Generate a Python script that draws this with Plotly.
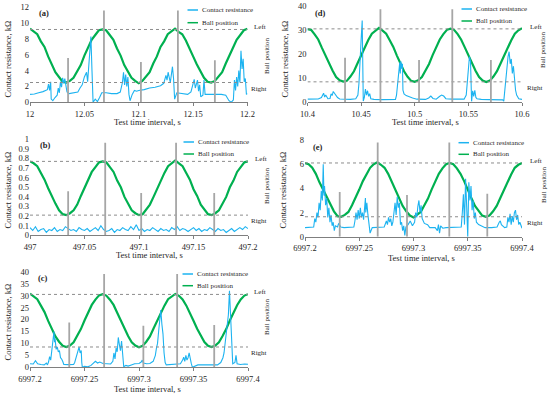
import plotly.graph_objects as go

W, H = 550, 394
FONT = "Liberation Serif"
BLUE = "#1DB3F0"
GREEN = "#00B050"
GRAY_BAR = "#A6A6A6"
GRAY_DOT = "#8C8C8C"
AXIS = "#7F7F7F"

# ---------------- shared sampling offsets (s) for the ball position ----------------
ball_dt = [0, 0.00333, 0.00667, 0.01, 0.01333, 0.01667, 0.02, 0.02333, 0.02667, 0.03,
           0.03333, 0.03667, 0.04, 0.04333, 0.04667, 0.05, 0.05333, 0.05667, 0.06, 0.06333,
           0.06667, 0.07, 0.07333, 0.07667, 0.08, 0.08333, 0.08667, 0.09, 0.09333, 0.09667,
           0.1, 0.10333, 0.10667, 0.11, 0.11333, 0.11667, 0.12, 0.12333, 0.12667, 0.13,
           0.13333, 0.13667, 0.14, 0.14333, 0.14667, 0.15, 0.15333, 0.15667, 0.16, 0.16333,
           0.16667, 0.17, 0.17333, 0.17667, 0.18, 0.18333, 0.18667, 0.19, 0.19333, 0.19667, 0.2]

# ---------------- panel (a) ----------------
a_t0 = 12.0
a_xticks = ["12", "12.05", "12.1", "12.15", "12.2"]
a_yticks = [0, 2, 4, 6, 8, 10, 12]
a_pos = [9.3, 9.0, 8.6, 7.7, 7.0, 5.8, 4.9, 3.8, 3.2, 2.6, 2.5, 2.7, 3.1, 3.9, 4.7, 5.9, 6.8, 7.9, 8.5, 9.1,
         9.2, 9.1, 8.5, 7.9, 6.8, 5.9, 4.7, 3.9, 3.1, 2.7, 2.4, 2.7, 3.2, 3.8, 4.9, 5.8, 7.0, 7.7, 8.6, 9.0,
         9.3, 8.9, 8.6, 7.8, 6.9, 5.8, 4.8, 3.9, 3.1, 2.6, 2.5, 2.7, 3.2, 3.8, 4.9, 5.8, 6.9, 7.9, 8.5, 9.1, 9.3]
a_cr_dt = [0, 0.004, 0.008, 0.012, 0.016, 0.017, 0.018, 0.019, 0.0195, 0.021, 0.023, 0.025, 0.026, 0.027,
           0.028, 0.029, 0.03, 0.031, 0.032, 0.033, 0.034, 0.036, 0.04, 0.044, 0.046, 0.048, 0.05, 0.052,
           0.053, 0.054, 0.055, 0.056, 0.057, 0.058, 0.06, 0.062, 0.064, 0.066, 0.07, 0.075, 0.08, 0.083,
           0.085, 0.086, 0.087, 0.088, 0.089, 0.09, 0.091, 0.092, 0.094, 0.096, 0.098, 0.1, 0.105, 0.11,
           0.115, 0.12, 0.123, 0.125, 0.126, 0.127, 0.129, 0.131, 0.132, 0.133, 0.135, 0.14, 0.145, 0.148,
           0.15, 0.151, 0.152, 0.154, 0.155, 0.156, 0.157, 0.159, 0.16, 0.161, 0.163, 0.17, 0.176, 0.18,
           0.183, 0.185, 0.187, 0.188, 0.189, 0.19, 0.191, 0.192, 0.193, 0.194, 0.195, 0.196, 0.197, 0.198,
           0.199, 0.2]
a_cr = [1.0, 1.05, 1.2, 1.35, 1.6, 2.3, 1.5, 2.6, 0.4, 0.2, 0.6, 0.9, 1.8, 1.2,
        2.6, 1.9, 3.1, 2.4, 3.0, 1.8, 1.3, 1.1, 1.2, 1.3, 1.8, 2.2, 3.2, 3.8,
        2.6, 4.2, 6.0, 8.3, 4.0, 0.0, 0.4, 0.1, 0.6, 1.2, 1.2, 1.1, 1.1, 1.3,
        2.5, 3.8, 2.2, 3.5, 2.0, 3.2, 1.0, 0.2, 1.0, 1.5, 1.4, 1.5, 1.6, 1.8,
        1.9, 2.1, 2.4, 3.4, 2.8, 3.8, 2.5, 4.5, 3.0, 0.4, 1.2, 1.1, 1.0, 1.3,
        2.2, 2.9, 1.8, 2.8, 1.4, 2.2, 0.7, 0.9, 2.8, 1.0, 1.0, 1.0, 1.0, 0.9,
        0.2, 0.0, 0.3, 2.8, 1.5, 3.2, 2.0, 4.0, 2.5, 6.5, 4.2, 5.5, 2.6, 3.0,
        1.0, 1.1]
a_bar_dt = [0.035, 0.068, 0.102, 0.136, 0.17]
a_bar_h = [5.6, 11.6, 5.1, 11.6, 5.3]
a_left, a_right = 9.2, 2.5

# ---------------- panel (b) ----------------
b_t0 = 497.0
b_xticks = ["497", "497.05", "497.1", "497.15", "497.2"]
b_yticks = [0, 0.1, 0.2, 0.3, 0.4, 0.5, 0.6, 0.7, 0.8, 0.9, 1]
b_pos = [0.77, 0.75, 0.72, 0.65, 0.58, 0.49, 0.40, 0.33, 0.26, 0.22, 0.21, 0.23, 0.26, 0.32, 0.41, 0.49, 0.57, 0.66, 0.71, 0.76,
         0.77, 0.76, 0.71, 0.66, 0.57, 0.50, 0.40, 0.33, 0.26, 0.23, 0.21, 0.22, 0.27, 0.32, 0.40, 0.49, 0.58, 0.65, 0.72, 0.75,
         0.78, 0.75, 0.72, 0.65, 0.58, 0.48, 0.41, 0.32, 0.27, 0.22, 0.21, 0.23, 0.26, 0.33, 0.40, 0.50, 0.57, 0.66, 0.71, 0.76, 0.77]
b_cr_dt = [0, 0.0025, 0.005, 0.0075, 0.01, 0.0125, 0.015, 0.0175, 0.02, 0.0225,
           0.025, 0.0275, 0.03, 0.0325, 0.035, 0.0375, 0.04, 0.0425, 0.045, 0.0475,
           0.05, 0.0525, 0.055, 0.0575, 0.06, 0.0625, 0.065, 0.0675, 0.07, 0.0725,
           0.075, 0.0775, 0.08, 0.0825, 0.085, 0.0875, 0.09, 0.0925, 0.095, 0.0975,
           0.1, 0.1025, 0.105, 0.1075, 0.11, 0.1125, 0.115, 0.1175, 0.12, 0.1225,
           0.125, 0.1275, 0.13, 0.1325, 0.135, 0.1375, 0.14, 0.1425, 0.145, 0.1475,
           0.15, 0.1525, 0.155, 0.1575, 0.16, 0.1625, 0.165, 0.1675, 0.17, 0.1725,
           0.175, 0.1775, 0.18, 0.1825, 0.185, 0.1875, 0.19, 0.1925, 0.195, 0.1975, 0.2]
b_cr = [0.08, 0.05, 0.09, 0.04, 0.06, 0.07, 0.03, 0.06, 0.05, 0.08,
        0.04, 0.06, 0.05, 0.09, 0.07, 0.05, 0.06, 0.04, 0.08, 0.06,
        0.05, 0.07, 0.04, 0.06, 0.08, 0.05, 0.10, 0.06, 0.04, 0.05,
        0.07, 0.03, 0.06, 0.05, 0.08, 0.06, 0.05, 0.09, 0.06, 0.11,
        0.05, 0.07, 0.04, 0.06, 0.05, 0.08, 0.06, 0.04, 0.07, 0.05,
        0.06, 0.04, 0.08, 0.06, 0.09, 0.05, 0.07, 0.06, 0.04, 0.06,
        0.08, 0.05, 0.07, 0.04, 0.06, 0.05, 0.08, 0.06, 0.04, 0.07,
        0.05, 0.06, 0.03, 0.05, 0.07, 0.04, 0.06, 0.08, 0.06, 0.09, 0.07]
b_bar_dt = [0.035, 0.069, 0.102, 0.134, 0.169]
b_bar_h = [0.46, 0.965, 0.44, 0.965, 0.44]
b_left, b_right = 0.77, 0.21

# ---------------- panel (c) ----------------
c_t0 = 6997.2
c_xticks = ["6997.2", "6997.25", "6997.3", "6997.35", "6997.4"]
c_yticks = [0, 5, 10, 15, 20, 25, 30, 35, 40]
c_pos = [30.8, 29.8, 28.5, 25.8, 23.1, 19.4, 16.2, 12.9, 10.7, 9.0, 8.5, 9.1, 10.5, 13.1, 16.0, 19.6, 22.8, 26.1, 28.3, 30.1,
         30.6, 30.0, 28.3, 26.1, 22.8, 19.6, 16.0, 13.1, 10.5, 9.1, 8.4, 9.0, 10.7, 12.9, 16.2, 19.4, 23.0, 25.8, 28.5, 29.8,
         30.7, 29.9, 28.4, 25.9, 22.9, 19.5, 16.1, 13.0, 10.6, 9.0, 8.5, 9.1, 10.5, 13.1, 16.0, 19.6, 22.8, 26.0, 28.4, 30.0, 30.6]
c_cr_dt = [0, 0.003, 0.005, 0.007, 0.01, 0.013, 0.015, 0.016, 0.017, 0.018, 0.019, 0.02, 0.021, 0.022,
           0.0225, 0.023, 0.024, 0.025, 0.026, 0.027, 0.028, 0.029, 0.03, 0.031, 0.035, 0.04, 0.041,
           0.042, 0.043, 0.044, 0.045, 0.046, 0.047, 0.0475, 0.048, 0.05, 0.053, 0.056, 0.058, 0.06,
           0.062, 0.064, 0.067, 0.07, 0.074, 0.076, 0.077, 0.078, 0.079, 0.08, 0.081, 0.082, 0.083,
           0.084, 0.085, 0.086, 0.088, 0.09, 0.093, 0.096, 0.1, 0.102, 0.103, 0.104, 0.107, 0.11,
           0.113, 0.115, 0.116, 0.117, 0.118, 0.119, 0.12, 0.121, 0.122, 0.123, 0.124, 0.125, 0.13,
           0.135, 0.138, 0.14, 0.141, 0.142, 0.143, 0.144, 0.145, 0.146, 0.147, 0.148, 0.149, 0.151,
           0.154, 0.16, 0.166, 0.172, 0.175, 0.177, 0.178, 0.179, 0.18, 0.181, 0.182, 0.183, 0.184,
           0.185, 0.186, 0.188, 0.189, 0.19, 0.193, 0.197, 0.2]
c_cr = [1.5, 1.4, 2.8, 1.5, 1.2, 1.0, 1.8, 1.0, 2.2, 4.5, 3.0, 8.0, 11.0, 15.0,
        10.5, 12.0, 7.5, 8.5, 6.5, 7.0, 4.0, 3.5, 2.5, 1.2, 1.1, 1.2, 2.0,
        3.5, 5.0, 6.5, 8.4, 6.0, 7.0, 2.0, 0.0, 0.4, 0.2, 0.8, 1.5, 2.5,
        1.8, 2.2, 1.6, 1.5, 1.4, 2.5, 6.0, 3.5, 8.0, 6.5, 12.5, 9.5, 7.0,
        11.0, 5.0, 0.2, 0.8, 0.5, 1.0, 1.5, 1.6, 2.2, 3.0, 1.8, 1.5, 1.6,
        2.5, 5.0, 8.0, 10.0, 15.0, 20.0, 24.0, 18.0, 14.0, 6.0, 2.0, 1.0, 1.2,
        1.3, 1.5, 3.0, 4.2, 2.5, 5.0, 3.0, 4.0, 6.0, 3.0, 1.5, 0.0, 0.5,
        1.0, 1.0, 1.1, 1.0, 2.0, 4.0, 6.0, 10.0, 14.0, 18.0, 22.0, 32.0, 20.0,
        14.0, 1.5, 2.0, 5.0, 1.5, 1.2, 1.4, 1.3]
c_bar_dt = [0.036, 0.068, 0.104, 0.135, 0.169]
c_bar_h = [18.7, 39.0, 17.4, 39.0, 17.7]
c_left, c_right = 30.5, 8.5

# ---------------- panel (d) ----------------
d_t0 = 10.4
d_xticks = ["10.4", "10.45", "10.5", "10.55", "10.6"]
d_yticks = [0, 10, 20, 30, 40]
d_pos = [30.4, 30.1, 28.2, 26.1, 22.7, 19.6, 15.9, 13.2, 10.5, 9.1, 8.6, 8.9, 10.7, 12.9, 16.2, 19.4, 23.0, 25.9, 28.5, 29.9,
         30.9, 29.8, 28.5, 25.8, 23.0, 19.4, 16.2, 12.9, 10.6, 8.9, 8.5, 9.2, 10.5, 13.1, 15.9, 19.6, 22.8, 26.1, 28.3, 30.1,
         30.6, 30.1, 28.3, 26.0, 22.8, 19.6, 16.0, 13.1, 10.5, 9.0, 8.4, 9.0, 10.7, 12.9, 16.1, 19.5, 23.0, 25.8, 28.5, 29.9, 30.8]
d_cr_dt = [0, 0.005, 0.01, 0.013, 0.015, 0.016, 0.017, 0.019, 0.021, 0.022, 0.023, 0.024, 0.026, 0.028,
           0.03, 0.035, 0.04, 0.045, 0.047, 0.048, 0.049, 0.05, 0.051, 0.0515, 0.052, 0.053, 0.054,
           0.055, 0.056, 0.057, 0.058, 0.059, 0.062, 0.07, 0.078, 0.082, 0.083, 0.084, 0.085, 0.086,
           0.0865, 0.087, 0.088, 0.0885, 0.089, 0.09, 0.092, 0.095, 0.098, 0.102, 0.11, 0.113, 0.115,
           0.117, 0.12, 0.123, 0.125, 0.127, 0.129, 0.135, 0.14, 0.146, 0.148, 0.149, 0.15, 0.151,
           0.152, 0.1525, 0.153, 0.154, 0.155, 0.156, 0.157, 0.158, 0.162, 0.17, 0.178, 0.182, 0.183,
           0.184, 0.185, 0.186, 0.187, 0.188, 0.189, 0.19, 0.191, 0.192, 0.193, 0.194, 0.195, 0.197, 0.2]
d_cr = [1.3, 1.3, 1.4, 2.0, 3.8, 2.2, 3.0, 1.5, 1.6, 3.5, 2.8, 4.5, 3.2, 2.0,
        1.4, 1.3, 1.2, 1.5, 3.0, 8.0, 15.0, 26.0, 34.0, 20.0, 0.5, 2.0, 5.5,
        3.0, 4.8, 2.5, 3.6, 1.5, 1.2, 1.1, 1.0, 1.2, 3.0, 8.0, 14.0, 16.5,
        12.0, 17.0, 14.0, 16.0, 5.0, 3.5, 2.8, 2.2, 1.8, 1.3, 1.2, 1.8, 2.6,
        1.6, 1.3, 2.4, 3.0, 2.6, 1.5, 1.3, 1.2, 1.3, 3.0, 8.0, 15.0, 19.0,
        17.0, 2.0, 0.4, 4.8, 2.5, 5.0, 2.0, 1.5, 1.2, 1.1, 1.0, 1.0, 0.5,
        5.0, 12.0, 16.0, 19.0, 21.0, 16.0, 18.0, 12.0, 15.0, 8.0, 5.0, 3.0, 1.5, 1.2]
d_bar_dt = [0.035, 0.068, 0.104, 0.135, 0.171]
d_bar_h = [18.5, 38.6, 17.6, 38.6, 17.6]
d_left, d_right = 30.5, 8.5

# ---------------- panel (e) ----------------
e_t0 = 6997.2
e_xticks = ["6997.2", "6997.25", "6997.3", "6997.35", "6997.4"]
e_yticks = [0, 2, 4, 6, 8]
e_pos = [6.1, 6.0, 5.7, 5.2, 4.5, 3.9, 3.2, 2.6, 2.1, 1.7, 1.65, 1.8, 2.05, 2.6, 3.2, 3.9, 4.6, 5.15, 5.7, 6.0,
         6.15, 5.95, 5.7, 5.2, 4.55, 3.85, 3.2, 2.55, 2.1, 1.75, 1.6, 1.8, 2.05, 2.6, 3.15, 3.9, 4.55, 5.2, 5.65, 6.0,
         6.1, 6.0, 5.65, 5.2, 4.6, 3.85, 3.2, 2.55, 2.1, 1.75, 1.65, 1.75, 2.1, 2.55, 3.2, 3.85, 4.6, 5.15, 5.7, 5.95, 6.1]
e_cr_dt = [0, 0.004, 0.008, 0.009, 0.01, 0.011, 0.012, 0.013, 0.014, 0.015, 0.016, 0.0168, 0.0175, 0.018,
           0.019, 0.02, 0.021, 0.022, 0.023, 0.024, 0.025, 0.026, 0.027, 0.028, 0.03, 0.031, 0.033, 0.036,
           0.04, 0.045, 0.046, 0.047, 0.048, 0.049, 0.05, 0.051, 0.052, 0.053, 0.054, 0.055, 0.0557, 0.056,
           0.057, 0.058, 0.059, 0.06, 0.062, 0.068, 0.073, 0.075, 0.076, 0.077, 0.078, 0.079, 0.08, 0.081,
           0.082, 0.083, 0.084, 0.085, 0.086, 0.087, 0.088, 0.089, 0.09, 0.091, 0.092, 0.093, 0.095, 0.097,
           0.099, 0.101, 0.102, 0.103, 0.104, 0.105, 0.106, 0.107, 0.108, 0.11, 0.113, 0.115, 0.12, 0.122,
           0.123, 0.124, 0.125, 0.127, 0.13, 0.14, 0.144, 0.145, 0.146, 0.147, 0.148, 0.149, 0.15, 0.151,
           0.152, 0.153, 0.154, 0.155, 0.156, 0.157, 0.158, 0.16, 0.163, 0.166, 0.172, 0.177, 0.179, 0.18,
           0.181, 0.184, 0.186, 0.187, 0.188, 0.189, 0.19, 0.191, 0.192, 0.193, 0.194, 0.195, 0.196, 0.197,
           0.198, 0.2]
e_cr = [0.75, 0.75, 0.8, 1.5, 1.2, 2.0, 1.6, 2.8, 2.2, 3.8, 3.0, 6.0, 3.4, 4.2,
        2.6, 3.2, 1.6, 2.4, 1.2, 1.8, 0.9, 1.2, 0.5, 0.9, 0.8, 1.1, 0.8, 0.75,
        0.75, 0.8, 1.3, 2.0, 1.4, 2.2, 1.5, 2.4, 1.6, 2.0, 1.4, 2.6, 3.2, 2.0,
        2.8, 1.8, 1.2, 0.3, 0.75, 0.75, 0.8, 1.3, 1.0, 1.6, 1.2, 1.5, 0.9, 1.2,
        2.0, 2.8, 1.8, 3.3, 2.4, 2.8, 1.0, 1.2, 0.5, 0.9, 0.1, 0.8, 1.0, 1.3,
        0.9, 1.2, 2.0, 1.6, 2.5, 3.0, 2.0, 2.6, 1.5, 1.1, 1.0, 0.75, 0.75, 0.5,
        1.0, 0.3, 0.9, 0.7, 0.75, 0.75, 0.8, 2.0, 3.5, 1.0, 4.8, 2.5, 0.0, 4.5,
        3.0, 4.2, 2.2, 3.0, 1.5, 2.0, 1.2, 1.0, 0.9, 0.75, 0.75, 0.8, 1.2, 1.3,
        1.0, 0.75, 0.8, 1.6, 1.2, 1.9, 1.0, 1.7, 1.2, 2.0, 2.2, 1.4, 1.8, 1.0,
        1.2, 0.7]
e_bar_dt = [0.032, 0.067, 0.094, 0.133, 0.168]
e_bar_h = [3.7, 7.8, 3.45, 7.8, 3.55]
e_left, e_right = 6.1, 1.65

# ---------------- layout geometry (pixels) ----------------
def fx(px):
    return px / W

def fy(py):
    return 1 - py / H

panels = [
    dict(lab="(a)", t0=a_t0, xt=a_xticks, yt=a_yticks, ymax=12, pos=a_pos, crdt=a_cr_dt, cr=a_cr,
         bdt=a_bar_dt, bh=a_bar_h, L=a_left, R=a_right,
         box=(30, 247.5, 7.3, 102.3), leg=(199.5, 10, 22.7), ytx=(7.5, 59), xtt=(147, 121.5), btt=(267, 56),
         lrx=(252, 249), labxy=(37, 13)),
    dict(lab="(d)", t0=d_t0, xt=d_xticks, yt=d_yticks, ymax=40, pos=d_pos, crdt=d_cr_dt, cr=d_cr,
         bdt=d_bar_dt, bh=d_bar_h, L=d_left, R=d_right,
         box=(307.5, 522, 6, 102.3), leg=(473.5, 9, 21), ytx=(284.5, 59), xtt=(425, 121.5), btt=(543, 50),
         lrx=(528, 525), labxy=(313, 13)),
    dict(lab="(b)", t0=b_t0, xt=b_xticks, yt=b_yticks, ymax=1, pos=b_pos, crdt=b_cr_dt, cr=b_cr,
         bdt=b_bar_dt, bh=b_bar_h, L=b_left, R=b_right,
         box=(30, 248, 139.3, 235.3), leg=(195.5, 142, 154), ytx=(7.5, 190), xtt=(149, 254.5), btt=(267, 186),
         lrx=(253, 249), labxy=(38, 145)),
    dict(lab="(e)", t0=e_t0, xt=e_xticks, yt=e_yticks, ymax=8, pos=e_pos, crdt=e_cr_dt, cr=e_cr,
         bdt=e_bar_dt, bh=e_bar_h, L=e_left, R=e_right,
         box=(305, 522, 140, 236.7), leg=(470.5, 142.7, 154.3), ytx=(282.5, 190), xtt=(422, 257.5), btt=(544, 185),
         lrx=(528, 525), labxy=(311, 147)),
    dict(lab="(c)", t0=c_t0, xt=c_xticks, yt=c_yticks, ymax=40, pos=c_pos, crdt=c_cr_dt, cr=c_cr,
         bdt=c_bar_dt, bh=c_bar_h, L=c_left, R=c_right,
         box=(30, 248, 271.7, 367.3), leg=(194.5, 274, 285.7), ytx=(7.5, 322), xtt=(147, 388.5), btt=(267, 317),
         lrx=(252, 249), labxy=(36, 278)),
]

fig = go.Figure()
annotations = []
shapes = []
layout = dict(
    width=W, height=H, margin=dict(l=0, r=0, t=0, b=0, pad=0, autoexpand=False),
    paper_bgcolor="white", plot_bgcolor="white",
    font=dict(family=FONT, size=8.5, color="#262626"),
    hovermode=False, showlegend=False,
)

for i, p in enumerate(panels):
    n = i + 1
    sfx = "" if n == 1 else str(n)
    xa, ya = "x" + sfx, "y" + sfx
    t0 = p["t0"]
    x0, x1, ytop, ybot = p["box"]

    # ball position (green)
    fig.add_trace(go.Scatter(
        x=[t0 + d for d in ball_dt], y=p["pos"], mode="lines", name="Ball position",
        line=dict(color=GREEN, width=2.2), xaxis=xa, yaxis=ya))
    # contact resistance (blue)
    fig.add_trace(go.Scatter(
        x=[t0 + d for d in p["crdt"]], y=p["cr"], mode="lines", name="Contact resistance",
        line=dict(color=BLUE, width=1.1), xaxis=xa, yaxis=ya))
    # dotted Left / Right levels
    for lvl in (p["L"], p["R"]):
        fig.add_trace(go.Scatter(
            x=[t0, t0 + 0.2], y=[lvl, lvl], mode="lines",
            line=dict(color=GRAY_DOT, width=1, dash="dot"), xaxis=xa, yaxis=ya))
    # gray vertical markers
    vx, vy = [], []
    for d, h in zip(p["bdt"], p["bh"]):
        vx += [t0 + d, t0 + d, None]
        vy += [0, h, None]
    fig.add_trace(go.Scatter(
        x=vx, y=vy, mode="lines",
        line=dict(color=GRAY_BAR, width=1.8), xaxis=xa, yaxis=ya))

    layout["xaxis" + sfx] = dict(
        domain=[fx(x0), fx(x1)], anchor=ya, range=[t0, t0 + 0.2],
        tickvals=[t0 + k * 0.05 for k in range(5)], ticktext=p["xt"],
        showgrid=False, zeroline=False, showline=True, linecolor=AXIS, linewidth=1,
        ticks="outside", ticklen=3, tickcolor=AXIS, tickfont=dict(size=8.5), automargin=False)
    layout["yaxis" + sfx] = dict(
        domain=[fy(ybot), fy(ytop)], anchor=xa, range=[0, p["ymax"]],
        tickvals=p["yt"], showgrid=False, zeroline=False, showline=False,
        ticks="", tickfont=dict(size=8.5), automargin=False)

    # manual legend (line sample + text)
    tx, r1, r2 = p["leg"]
    for ry, col, name in ((r1, BLUE, "Contact resistance"), (r2, GREEN, "Ball position")):
        shapes.append(dict(type="line", xref="paper", yref="paper",
                           x0=fx(tx - 12), x1=fx(tx - 1.5), y0=fy(ry), y1=fy(ry),
                           line=dict(color=col, width=1.5)))
        annotations.append(dict(text=name, x=fx(tx), y=fy(ry), xref="paper", yref="paper",
                                xanchor="left", yanchor="middle", showarrow=False,
                                font=dict(size=7)))

    # texts
    annotations.append(dict(text="<b>" + p["lab"] + "</b>", x=fx(p["labxy"][0]), y=fy(p["labxy"][1]),
                             xref="paper", yref="paper", xanchor="left", yanchor="middle",
                             showarrow=False, font=dict(size=8.5)))
    annotations.append(dict(text="Contact resistance, kΩ", x=fx(p["ytx"][0]), y=fy(p["ytx"][1]),
                             xref="paper", yref="paper", xanchor="center", yanchor="middle",
                             textangle=-90, showarrow=False, font=dict(size=8.5)))
    annotations.append(dict(text="Test time interval, s", x=fx(p["xtt"][0]), y=fy(p["xtt"][1]),
                             xref="paper", yref="paper", xanchor="center", yanchor="middle",
                             showarrow=False, font=dict(size=8.5)))
    annotations.append(dict(text="Ball position", x=fx(p["btt"][0]), y=fy(p["btt"][1]),
                             xref="paper", yref="paper", xanchor="center", yanchor="middle",
                             textangle=-90, showarrow=False, font=dict(size=7)))
    annotations.append(dict(text="Left", x=fx(p["lrx"][0]), y=p["L"], xref="paper", yref=ya,
                             xanchor="left", yanchor="middle", yshift=2,
                             showarrow=False, font=dict(size=7)))
    annotations.append(dict(text="Right", x=fx(p["lrx"][1]), y=p["R"], xref="paper", yref=ya,
                             xanchor="left", yanchor="middle", yshift=-6,
                             showarrow=False, font=dict(size=7)))

layout["annotations"] = annotations
layout["shapes"] = shapes
fig.update_layout(**layout)
fig.write_html("out.html", config={"displayModeBar": False},
               post_script="document.body.style.margin='0px';")
